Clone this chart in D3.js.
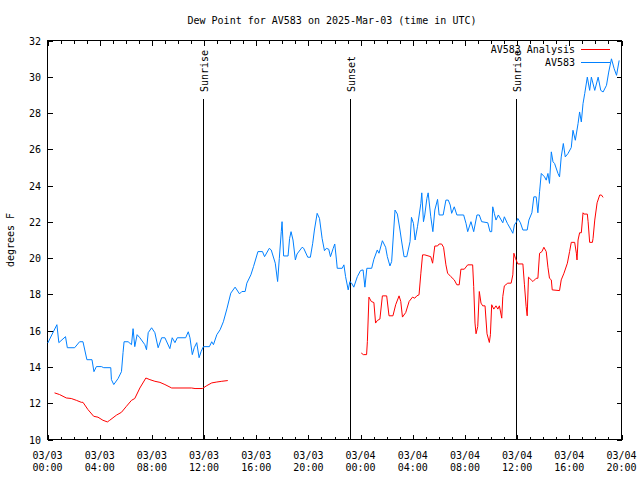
<!DOCTYPE html>
<html><head><meta charset="utf-8">
<script src="https://cdn.jsdelivr.net/npm/d3@7"></script>
<style>body{margin:0;background:#fff}svg{display:block}text{font-family:"DejaVu Sans Mono",monospace;font-size:10px;fill:#000}</style>
</head><body><svg id="c" width="640" height="480"></svg>
<script>
// hours since 2025-03-03 00:00 UTC
const obsHours = [0.02,0.72,0.87,1.38,1.52,2.08,2.46,2.72,3.02,3.41,3.56,3.75,4.13,4.31,4.85,4.9,5.08,5.41,5.67,5.79,5.87,6.18,6.44,6.56,6.69,6.87,7.08,7.46,7.59,7.72,7.98,8.23,8.48,8.75,9.0,9.38,9.56,9.77,9.95,10.59,10.79,10.92,11.1,11.25,11.44,11.62,11.77,11.95,12.41,12.59,12.72,12.98,13.23,13.48,13.75,14.05,14.38,14.72,14.9,15.15,15.28,15.59,15.79,16.13,16.48,16.64,17.0,17.15,17.46,17.64,17.77,17.92,17.98,18.1,18.44,18.56,18.67,18.82,19.0,19.13,19.52,19.64,19.95,20.15,20.33,20.46,20.67,20.85,21.05,21.23,21.38,21.56,21.69,21.9,22.02,22.15,22.21,22.59,22.72,22.85,23.05,23.18,23.31,23.48,23.75,24.0,24.19,24.33,24.48,24.85,25.02,25.28,25.41,25.67,25.92,26.05,26.25,26.38,26.64,26.82,27.02,27.13,27.33,27.54,27.79,27.9,28.05,28.18,28.36,28.62,28.69,28.82,28.92,29.08,29.18,29.38,29.54,29.69,29.9,30.02,30.33,30.54,30.72,30.87,30.98,31.18,31.38,31.9,32.08,32.21,32.46,32.67,32.92,33.1,33.28,33.75,33.92,34.05,34.13,34.25,34.38,34.56,34.9,35.02,35.25,35.54,35.67,35.79,35.96,36.05,36.25,36.44,36.77,36.9,37.13,37.28,37.46,37.59,37.72,37.85,38.1,38.23,38.36,38.48,38.62,38.75,38.87,39.13,39.25,39.38,39.54,39.69,39.9,40.15,40.28,40.46,40.67,40.79,40.92,41.05,41.18,41.38,41.56,41.69,41.95,42.21,42.41,42.59,42.85,43.02,43.23,43.44,43.62,43.82];
const obsValues = [15.32,16.33,15.34,15.67,15.06,15.06,15.39,15.39,14.4,14.4,13.74,14.02,14.02,13.96,13.96,13.3,13.03,13.36,13.74,14.79,15.39,15.39,15.23,16.11,15.12,15.78,15.61,15.23,14.95,15.89,16.16,15.89,15.06,15.61,15.61,15.01,15.61,15.34,15.61,15.61,15.94,15.61,14.68,15.06,15.34,14.51,14.84,15.12,15.12,15.39,15.23,15.78,16.05,16.49,17.2,18.07,18.4,18.03,18.16,18.16,18.62,19.08,19.53,20.36,20.36,20.08,20.54,20.45,19.72,18.71,19.99,21.46,22.01,20.12,20.12,21.09,21.46,21.0,19.9,20.23,20.6,20.54,20.05,20.05,20.82,21.55,22.47,22.19,21.09,20.41,20.54,20.49,20.08,20.54,20.78,19.9,19.44,19.44,19.63,18.98,18.25,18.71,18.62,18.4,18.98,19.32,19.35,18.4,19.44,19.44,19.94,20.45,20.27,20.96,20.6,20.08,19.57,19.81,22.65,22.43,21.55,21.0,20.08,20.08,20.91,22.25,21.92,21.0,21.73,23.02,23.6,22.01,22.38,23.29,23.6,22.28,21.46,22.65,23.24,22.38,22.38,23.2,23.2,22.93,22.47,22.83,22.38,22.38,21.92,21.46,22.01,21.46,22.38,22.38,22.01,21.95,21.46,21.46,22.83,22.47,22.1,22.38,21.95,22.28,21.92,21.55,21.37,21.83,22.01,22.19,21.95,21.55,21.55,22.1,22.5,23.38,23.38,22.5,23.66,24.67,24.48,24.3,24.67,24.12,25.86,25.31,25.22,24.67,24.48,25.58,26.32,25.58,25.77,26.1,27.05,26.5,27.42,28.06,27.51,28.52,29.07,29.98,29.25,29.98,29.25,29.98,29.25,29.16,29.53,30.26,30.99,30.44,30.08,30.9];
const anaHours1 = [0.54,0.92,1.44,1.82,2.21,2.59,2.72,3.1,3.54,3.87,4.25,4.59,4.77,5.28,5.67,6.05,6.44,6.69,7.08,7.54,7.85,8.23,8.62,9.0,9.52,11.05,11.31,11.87,12.21,12.59,12.98,13.36,13.82];
const anaValues1 = [12.57,12.48,12.29,12.26,12.16,12.05,12.05,11.65,11.28,11.23,11.06,10.97,11.06,11.34,11.5,11.83,12.16,12.26,12.84,13.39,13.3,13.21,13.15,13.03,12.84,12.84,12.81,12.81,12.97,13.12,13.17,13.21,13.25];
const anaHours2 = [24.05,24.21,24.46,24.52,24.64,24.82,25.02,25.15,25.28,25.48,25.67,26.0,26.18,26.48,26.69,26.95,27.08,27.21,27.46,27.72,27.98,28.15,28.31,28.48,28.62,28.75,28.92,29.38,29.52,29.69,29.9,30.02,30.21,30.36,30.54,30.67,30.92,31.18,31.38,31.56,31.69,31.95,32.21,32.59,32.67,32.77,32.85,32.98,33.1,33.23,33.36,33.54,33.69,33.87,33.95,34.05,34.21,34.38,34.52,34.64,34.82,34.9,35.02,35.28,35.54,35.67,35.75,35.87,36.05,36.44,36.56,36.69,36.77,36.87,37.08,37.21,37.46,37.59,37.72,37.9,38.05,38.23,38.36,38.48,38.62,38.69,39.25,39.38,39.59,39.85,40.02,40.15,40.41,40.54,40.59,40.67,40.79,40.92,41.05,41.13,41.38,41.44,41.56,41.77,41.82,41.95,42.13,42.33,42.46,42.59];
const anaValues2 = [14.77,14.68,14.68,15.41,17.85,17.61,17.55,16.42,16.56,16.64,17.92,17.92,16.82,16.82,17.43,17.92,17.61,16.75,17.0,17.61,17.85,17.79,17.92,17.98,19.17,20.18,20.18,20.08,19.72,20.67,20.67,20.78,20.78,20.6,19.63,19.17,18.98,18.8,18.53,18.53,19.39,19.39,19.63,19.63,18.43,16.42,15.83,16.23,18.16,17.52,17.37,17.37,15.83,15.35,15.78,17.43,17.19,17.37,17.19,17.37,16.69,17.88,18.47,18.62,18.62,19.08,20.27,19.99,19.68,19.68,18.53,17.33,16.82,18.95,18.8,18.71,18.89,18.89,20.27,20.36,20.6,20.36,19.5,18.89,18.8,18.25,18.21,18.8,19.17,19.72,20.36,20.87,20.87,20.27,19.9,21.0,21.4,21.4,22.5,22.43,22.43,22.01,20.87,20.87,21.09,22.1,23.05,23.48,23.48,23.35];
const eventLabels = ["Sunrise","Sunset","Sunrise"];
const eventHours = [11.92,23.15,35.94];
const yTicks = [10,12,14,16,18,20,22,24,26,28,30,32];
const seriesNames = ["AV583 Analysis","AV583"];
const seriesColors = ["#ff0000","#0080ff"];
const titleText = "Dew Point for AV583 on 2025-Mar-03 (time in UTC)";
const yLabel = "degrees F";

const t0 = Date.UTC(2025,2,3,0,0);
const toDate = h => new Date(t0 + h*3600e3);
const L=47.5, R=621.5, T=40.5, B=439.5;
const svg = d3.select("#c");
const x = d3.scaleUtc().domain([toDate(0), toDate(44)]).range([L,R]);
const y = d3.scaleLinear().domain([10,32]).range([B,T]);

// title
svg.append("text").attr("x",332).attr("y",24).attr("text-anchor","middle").text(titleText);
svg.append("text").attr("transform",`translate(14,240) rotate(-90)`).attr("text-anchor","middle").text(yLabel);

const ax = svg.append("g").attr("shape-rendering","crispEdges").attr("stroke","#000").attr("stroke-width",1);
const major = d3.utcHour.every(4).range(toDate(0), toDate(44.01));
const minor = d3.utcHour.every(1).range(toDate(0), toDate(44.01));
minor.forEach(d=>{
  const isMaj = d.getUTCHours()%4===0; const len = isMaj?5:3; const xx=Math.round(x(d))+0.5;
  ax.append("line").attr("x1",xx).attr("x2",xx).attr("y1",B).attr("y2",B-len);
  ax.append("line").attr("x1",xx).attr("x2",xx).attr("y1",T).attr("y2",T+len);
});
yTicks.forEach(v=>{
  const yy=Math.round(y(v))+0.5;
  ax.append("line").attr("x1",L).attr("x2",L+5).attr("y1",yy).attr("y2",yy);
  ax.append("line").attr("x1",R).attr("x2",R-5).attr("y1",yy).attr("y2",yy);
  svg.append("text").attr("x",41).attr("y",y(v)+4).attr("text-anchor","end").text(v);
});
const fDay = d3.utcFormat("%m/%d"), fHr = d3.utcFormat("%H:%M");
major.forEach(d=>{
  svg.append("text").attr("x",x(d)).attr("y",459).attr("text-anchor","middle").text(fDay(d));
  svg.append("text").attr("x",x(d)).attr("y",471).attr("text-anchor","middle").text(fHr(d));
});

// event lines
eventHours.forEach((h,i)=>{
  const xx=Math.round(x(toDate(h)))+0.5;
  ax.append("line").attr("x1",xx).attr("x2",xx).attr("y1",99).attr("y2",B);
  svg.append("text").attr("transform",`translate(${xx+4.5},92) rotate(-90)`).text(eventLabels[i]);
});

const line = d3.line().x(d=>x(toDate(d[0]))).y(d=>y(d[1]));
const draw = (hs,vs,c)=>svg.append("path").attr("d",line(d3.zip(hs,vs))).attr("fill","none").attr("stroke",c).attr("stroke-width",1);
draw(anaHours1,anaValues1,seriesColors[0]);
draw(anaHours2,anaValues2,seriesColors[0]);
draw(obsHours,obsValues,seriesColors[1]);

// legend
seriesNames.forEach((n,i)=>{
  const yy = 49+i*13;
  svg.append("text").attr("x",575).attr("y",yy+4).attr("text-anchor","end").text(n);
  svg.append("line").attr("x1",581).attr("x2",610).attr("y1",yy+0.5).attr("y2",yy+0.5).attr("stroke",seriesColors[i]).attr("shape-rendering","crispEdges");
});

// frame
ax.append("rect").attr("x",L).attr("y",T).attr("width",R-L).attr("height",B-T).attr("fill","none");
</script></body></html>
